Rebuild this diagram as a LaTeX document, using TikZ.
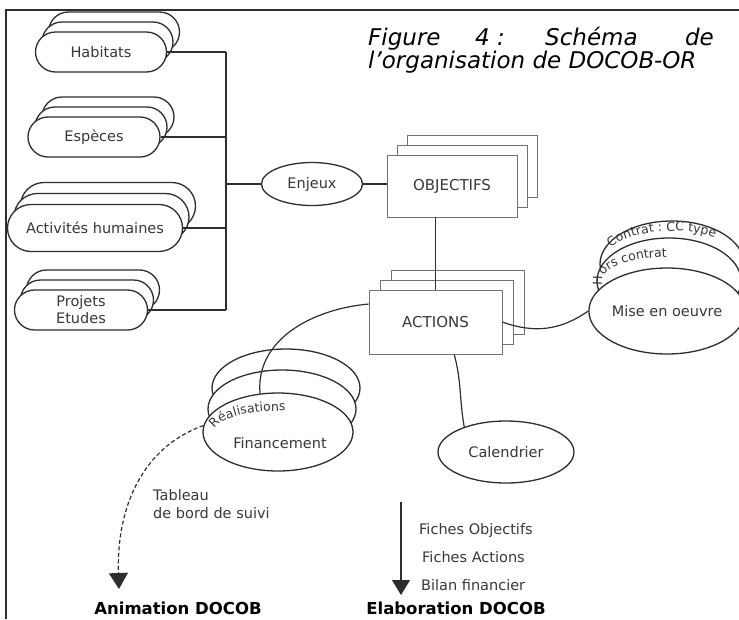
\documentclass[tikz,border=0pt]{standalone}
\usepackage{fontspec}
\setmainfont{DejaVu Sans}
\usetikzlibrary{shapes.geometric,shapes.misc,arrows.meta,decorations.text}

\definecolor{ink}{HTML}{2E2E2E}
\definecolor{boxgray}{HTML}{727272}
\definecolor{txt}{HTML}{383838}

\newcommand\lblfont{\fontsize{14.5}{18}\selectfont}
\newcommand\arcfont{\fontsize{12.5}{13}\selectfont}

\tikzset{
  pill/.style={draw=ink, line width=1.3pt, fill=white, shape=rounded rectangle,
    minimum height=40pt, inner sep=0pt, font=\lblfont, text=txt, align=center},
  card/.style={draw=boxgray, line width=0.9pt, fill=white, minimum width=130pt,
    minimum height=62pt, inner sep=0pt, font=\fontsize{15}{18}\selectfont, text=txt},
  oval/.style={draw=ink, line width=1.3pt, fill=white, ellipse, inner sep=0pt,
    font=\lblfont, text=txt},
  wire/.style={draw=ink, line width=1.2pt},
  lbl/.style={font=\lblfont, text=txt, inner sep=0pt},
  capt/.style={font=\fontsize{23}{24}\selectfont\itshape, text=black, inner sep=0pt, anchor=base west},
  phase/.style={font=\fontsize{16.5}{18}\selectfont\bfseries, text=black, inner sep=0pt, anchor=base},
  frame/.style={draw=ink, line width=1.6pt}
}

\begin{document}
\begin{tikzpicture}[x=1pt,y=-1pt]
  \useasboundingbox (0,0) rectangle (739,619);
  \clip (0,0) rectangle (739,619);
  \draw[frame] (6,619) -- (6,10) -- (739,10);

  % caption
  \node[capt] (cap1) at (368,45) {Figure};
  \node[capt] (cap2) at (475,45) {4 :};
  \node[capt] (cap3) at (545,45) {Schéma};
  \node[capt, anchor=base east] (cap4) at (714,45) {de};
  \node[capt] (cap5) at (368,68) {l’organisation de DOCOB-OR};

  % stacked themes, left
  \foreach \k in {2,1}
    \node[pill, minimum width=131pt, xshift=\k*6.5pt, yshift=\k*10pt] at (101,52) {};
  \node[pill, minimum width=131pt] (hab) at (101,52) {Habitats};
  \foreach \k in {2,1}
    \node[pill, minimum width=132pt, xshift=\k*7pt, yshift=\k*10pt] at (94,137) {};
  \node[pill, minimum width=132pt] (esp) at (94,137) {Espèces};
  \foreach \k in {2,1}
    \node[pill, minimum width=175pt, minimum height=47pt, xshift=\k*6.5pt, yshift=\k*11pt] at (95,228) {};
  \node[pill, minimum width=175pt, minimum height=47pt] (acth) at (95,228) {Activités humaines};
  \foreach \k in {2,1}
    \node[pill, minimum width=133pt, xshift=\k*6pt, yshift=\k*10pt] at (81,310) {};
  \node[pill, minimum width=133pt, font=\fontsize{14.5}{17}\selectfont] (proj) at (81,310) {Projets\\Etudes};

  \coordinate (bus) at (226,184);
  \node[oval, minimum width=101pt, minimum height=43pt] (enj) at (312,184) {Enjeux};

  % objectifs / actions
  \foreach \k in {2,1}
    \node[card, xshift=\k*10pt, yshift=\k*10pt] at (452,186) {};
  \node[card] (obj) at (452,186) {OBJECTIFS};
  \foreach \k in {2,1}
    \node[card, minimum width=133pt, minimum height=64pt, xshift=\k*11pt, yshift=\k*10pt] at (435.5,322) {};
  \node[card, minimum width=133pt, minimum height=64pt] (act) at (435.5,322) {ACTIONS};

  % mise en oeuvre
  \node[oval, minimum width=144pt, minimum height=86pt] (mise2) at (672,264) {};
  \node[oval, minimum width=144pt, minimum height=86pt] (mise1) at (669,281) {};
  \node[oval, minimum width=144pt, minimum height=86pt] (mise) at (667,311) {Mise en oeuvre};

  % realisations
  \node[oval, minimum width=148pt, minimum height=78pt] (fin2) at (286,388) {};
  \node[oval, minimum width=148pt, minimum height=78pt] (fin1) at (282,409) {};
  \node[oval, minimum width=150pt, minimum height=78pt] (fin) at (278,432) {};
  \node[lbl] (finl) at (280,443) {Financement};

  \node[oval, minimum width=136pt, minimum height=62pt] (cal) at (506,452) {Calendrier};

  % curved labels
  \path[decorate, decoration={text along path, text align=left,
      text={|\arcfont\color{txt}|Contrat : CC type}}]
    (mise2.center) ++(150:71pt and 33pt) arc[start angle=150, end angle=0, x radius=71pt, y radius=33pt];
  \path[decorate, decoration={text along path, text align=left,
      text={|\arcfont\color{txt}|Hors contrat}}]
    (mise1.center) ++(190:67pt and 24pt) arc[start angle=190, end angle=30, x radius=67pt, y radius=24pt];
  \path[decorate, decoration={text along path, text align=left,
      text={|\arcfont\color{txt}|Réalisations}}]
    (fin.center) ++(172:64pt and 21pt) arc[start angle=172, end angle=30, x radius=64pt, y radius=21pt];

  % connectors
  \draw[wire] (hab.east) -- (hab.east -| bus);
  \draw[wire] (esp.east) -- (esp.east -| bus);
  \draw[wire] (acth.east) -- (acth.east -| bus);
  \draw[wire] (proj.east) -- (proj.east -| bus);
  \draw[wire] (hab.east -| bus) -- (proj.east -| bus);
  \draw[wire] (bus) -- (enj);
  \draw[wire] (enj.east) -- (enj.east -| obj.west);
  \draw[wire] (obj.south -| act.north) -- (act.north);
  \draw[wire] (act.165) to[out=185, in=95] (fin.115);
  \draw[wire] (act.east) to[out=-20, in=215] (mise.west);
  \draw[wire] (act.-60) to[out=-75, in=100] (cal.149);

  % outputs
  \coordinate (animtip) at (119,589);
  \draw[wire, dashed, dash pattern=on 4pt off 2.5pt, -{Triangle[width=19pt,length=16pt]}]
    (fin.175) to[out=200, in=92] (animtip);
  \node[lbl, anchor=west, align=left] (suivi) at (153,504) {Tableau\\de bord de suivi};
  \node[phase] (anim) at (178,614) {Animation DOCOB};

  \coordinate (elabtop) at (401,502);
  \coordinate (elabtip) at (401,595);
  \draw[wire, -{Triangle[width=18pt,length=15pt]}] (elabtop) -- (elabtip);
  \node[lbl, anchor=west] (fobj) at (419,530) {Fiches Objectifs};
  \node[lbl, anchor=west] (fact) at (422,557) {Fiches Actions};
  \node[lbl, anchor=west] (bilan) at (421,585) {Bilan financier};
  \node[phase] (elab) at (456,614) {Elaboration DOCOB};
\end{tikzpicture}
\end{document}
